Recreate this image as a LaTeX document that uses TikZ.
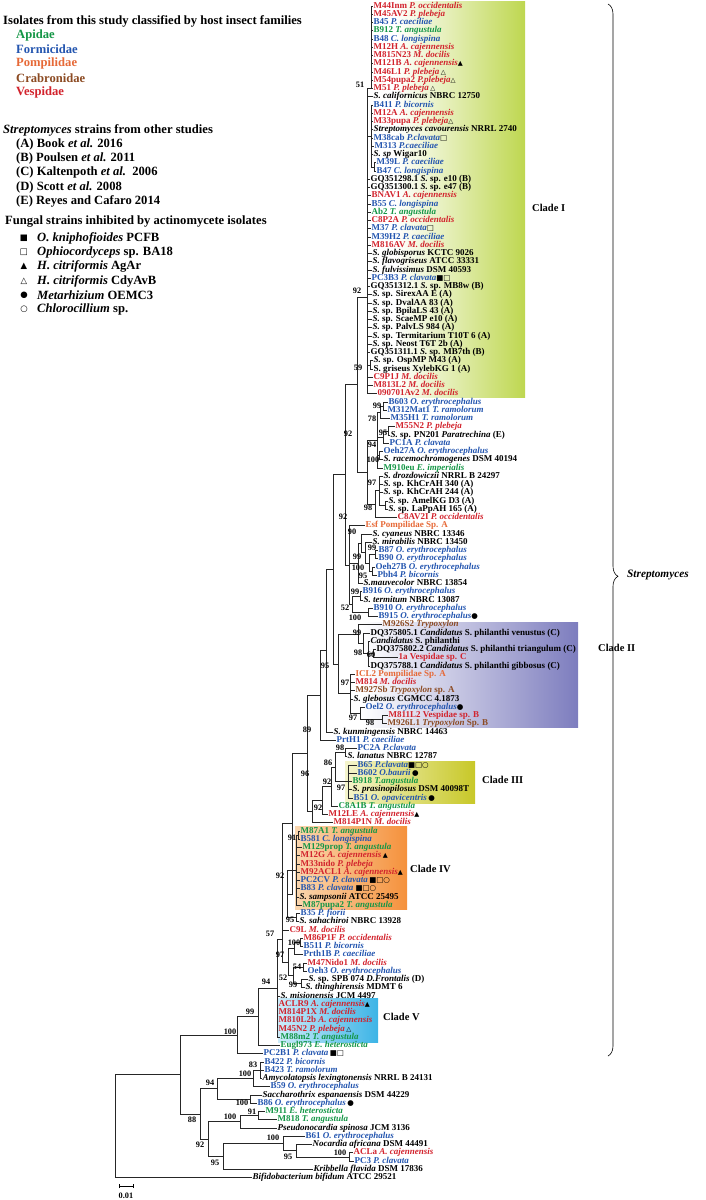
\documentclass[tikz,border=0pt]{standalone}
\usepackage{fontspec}
\setmainfont{Liberation Serif}
\newfontfamily\symf{DejaVu Sans}
\usetikzlibrary{decorations.pathreplacing}
\definecolor{apid}{RGB}{20,150,70}
\definecolor{form}{RGB}{35,85,175}
\definecolor{pomp}{RGB}{230,105,55}
\definecolor{crab}{RGB}{140,75,35}
\definecolor{vesp}{RGB}{210,35,45}
\definecolor{cI}{RGB}{190,215,80}
\definecolor{cII}{RGB}{125,125,190}
\definecolor{cIII}{RGB}{200,200,40}
\definecolor{cIIIl}{RGB}{245,245,205}
\definecolor{cIV}{RGB}{245,145,60}
\definecolor{cIVl}{RGB}{250,215,175}
\definecolor{cV}{RGB}{60,180,230}
\definecolor{cVl}{RGB}{205,236,250}
\newcommand{\mkTf}{{\color{black}\symf\fontsize{6.5}{5}\selectfont ▲}}
\newcommand{\mkTe}{{\color{black}\symf\fontsize{6.5}{5}\selectfont △}}
\newcommand{\mkSf}{{\color{black}\symf\fontsize{7.5}{5}\selectfont ■}}
\newcommand{\mkSe}{{\color{black}\symf\fontsize{7.5}{5}\selectfont □}}
\newcommand{\mkCf}{{\color{black}\symf\fontsize{7.5}{5}\selectfont ●}}
\newcommand{\mkCe}{{\color{black}\symf\fontsize{7.5}{5}\selectfont ○}}
\newcommand{\tp}[5]{\node[tip,text=#4] (#1) at (#3,{6+8.25*#2}) {#5};}
\newcommand{\kids}[2]{\foreach \kk in {#2}{\draw[br] (#1) |- (\kk);}}
\begin{document}
\begin{tikzpicture}[x=1pt,y=-1pt,
 tip/.style={anchor=west,inner sep=0.5pt,text height=6pt,text depth=1.9pt,font=\fontsize{9}{9}\selectfont\bfseries},
 br/.style={draw=black!85,line width=0.7pt},
 bs/.style={inner sep=0pt,font=\fontsize{8.3}{8}\selectfont\bfseries},
 leg/.style={anchor=west,inner sep=0pt,font=\fontsize{12.6}{13}\selectfont\bfseries},
 lsym/.style={inner sep=0pt,font=\fontsize{8.5}{8}\selectfont},
 clade/.style={anchor=west,inner sep=0pt,font=\fontsize{10.5}{11}\selectfont\bfseries}]
\useasboundingbox (0,0) rectangle (706,1200);
% clade boxes
\shade[left color=white,right color=cI] (395,1) rectangle (525,397);
\shade[left color=white,right color=cII] (362,622) rectangle (578,727);
\shade[left color=cIIIl,right color=cIII] (345,761) rectangle (475,803);
\shade[left color=cIVl,right color=cIV] (295,826) rectangle (407,909);
\shade[left color=cVl,right color=cV] (278,998) rectangle (378,1042);
% legend
\node[leg] (lg1) at (3,21) {Isolates from this study classified by host insect families};
\node[leg,text=apid] (lg2) at (16,35) {Apidae};
\node[leg,text=form] (lg3) at (16,49) {Formicidae};
\node[leg,text=pomp] (lg4) at (16,63) {Pompilidae};
\node[leg,text=crab] (lg5) at (16,78) {Crabronidae};
\node[leg,text=vesp] (lg6) at (16,92) {Vespidae};
\node[leg] (lg7) at (3,130) {\textit{Streptomyces} strains from other studies};
\node[leg] (lg8) at (16,144) {(A) Book \textit{et al.} 2016};
\node[leg] (lg9) at (16,158) {(B) Poulsen \textit{et al.} 2011};
\node[leg] (lg10) at (16,172) {(C) Kaltenpoth \textit{et al.}\ \ 2006};
\node[leg] (lg11) at (16,187) {(D) Scott \textit{et al.} 2008};
\node[leg] (lg12) at (16,201) {(E) Reyes and Cafaro 2014};
\node[leg] (lg13) at (5,222) {Fungal strains inhibited by actinomycete isolates};
\node[lsym] (ls1) at (24,238) {\symf ■};
\node[lsym] (ls2) at (24,252) {\symf □};
\node[lsym] (ls3) at (24,266) {\symf ▲};
\node[lsym] (ls4) at (24,281) {\symf △};
\node[lsym] (ls5) at (24,295) {\symf ●};
\node[lsym] (ls6) at (24,309) {\symf ○};
\node[leg] (lt1) at (37,238) {\textit{O. kniphofioides} PCFB};
\node[leg] (lt2) at (37,252) {\textit{Ophiocordyceps} sp. BA18};
\node[leg] (lt3) at (37,266) {\textit{H. citriformis} AgAr};
\node[leg] (lt4) at (37,281) {\textit{H. citriformis} CdyAvB};
\node[leg] (lt5) at (37,295) {\textit{Metarhizium} OEMC3};
\node[leg] (lt6) at (37,309) {\textit{Chlorocillium} sp.};
% tips
\tp{t0}{0}{373}{vesp}{M44Inm \textit{P. occidentalis}}
\tp{t1}{1}{373}{vesp}{M45AV2 \textit{P. plebeja}}
\tp{t2}{2}{373}{form}{B45 \textit{P. caeciliae}}
\tp{t3}{3}{373}{apid}{B912 \textit{T. angustula}}
\tp{t4}{4}{373}{form}{B48 \textit{C. longispina}}
\tp{t5}{5}{373}{vesp}{M12H \textit{A. cajennensis}}
\tp{t6}{6}{373}{vesp}{M815N23 \textit{M. docilis}}
\tp{t7}{7}{373}{vesp}{M121B \textit{A. cajennensis}\mkTf}
\tp{t8}{8}{373}{vesp}{M46L1 \textit{P. plebeja}\,\mkTe}
\tp{t9}{9}{373}{vesp}{M54pupa2 \textit{P.plebeja}\mkTe}
\tp{t10}{10}{373}{vesp}{M51 \textit{P. plebeja}\,\mkTe}
\tp{t11}{11}{373}{black}{\textit{S. californicus} NBRC 12750}
\tp{t12}{12}{373}{form}{B411 \textit{P. bicornis}}
\tp{t13}{13}{373}{vesp}{M12A \textit{A. cajennensis}}
\tp{t14}{14}{373}{vesp}{M33pupa \textit{P. plebeja}\mkTe}
\tp{t15}{15}{373}{black}{\textit{Streptomyces cavourensis} NRRL 2740}
\tp{t16}{16}{373}{form}{M38cab \textit{P.clavata}\mkSe}
\tp{t17}{17}{374}{form}{M313 \textit{P.caeciliae}}
\tp{t18}{18}{373}{black}{\textit{S. sp} Wigar10}
\tp{t19}{19}{376}{form}{M39L \textit{P. caeciliae}}
\tp{t20}{20}{376}{form}{B47 \textit{C. longispina}}
\tp{t21}{21}{370}{black}{GQ351298.1 \textit{S.} sp. e10 (B)}
\tp{t22}{22}{370}{black}{GQ351300.1 \textit{S.} sp. e47 (B)}
\tp{t23}{23}{371}{vesp}{BNAV1 \textit{A. cajennensis}}
\tp{t24}{24}{371}{form}{B55 \textit{C. longispina}}
\tp{t25}{25}{371}{apid}{Ab2 \textit{T. angustula}}
\tp{t26}{26}{371}{vesp}{C8P2A \textit{P. occidentalis}}
\tp{t27}{27}{371}{form}{M37 \textit{P. clavata}\mkSe}
\tp{t28}{28}{371}{form}{M39H2 \textit{P. caeciliae}}
\tp{t29}{29}{371}{vesp}{M816AV \textit{M. docilis}}
\tp{t30}{30}{372}{black}{\textit{S. globisporus} KCTC 9026}
\tp{t31}{31}{372}{black}{\textit{S. flavogriseus} ATCC 33331}
\tp{t32}{32}{372}{black}{\textit{S. fulvissimus} DSM 40593}
\tp{t33}{33}{371}{form}{PC3B3 \textit{P. clavata}\mkSf\mkSe}
\tp{t34}{34}{370}{black}{GQ351312.1 \textit{S.} sp. MB8w (B)}
\tp{t35}{35}{372}{black}{\textit{S.} sp. SirexAA E (A)}
\tp{t36}{36}{372}{black}{\textit{S.} sp. DvalAA 83 (A)}
\tp{t37}{37}{372}{black}{\textit{S.} sp. BpilaLS 43 (A)}
\tp{t38}{38}{372}{black}{\textit{S.} sp. ScaeMP e10 (A)}
\tp{t39}{39}{372}{black}{\textit{S.} sp. PalvLS 984 (A)}
\tp{t40}{40}{372}{black}{\textit{S.} sp. Termitarium T10T 6 (A)}
\tp{t41}{41}{372}{black}{\textit{S.} sp. Neost T6T 2b (A)}
\tp{t42}{42}{370}{black}{GQ351311.1 \textit{S.} sp. MB7th (B)}
\tp{t43}{43}{373}{black}{\textit{S.} sp. OspMP M43 (A)}
\tp{t44}{44}{373}{black}{S. griseus XylebKG 1 (A)}
\tp{t45}{45}{373}{vesp}{C9P1J \textit{M. docilis}}
\tp{t46}{46}{373}{vesp}{M813L2 \textit{M. docilis}}
\tp{t47}{47}{377}{vesp}{090701Av2 \textit{M. docilis}}
\tp{t48}{48}{388}{form}{B603 \textit{O. erythrocephalus}}
\tp{t49}{49}{387}{form}{M312Mat1 \textit{T. ramolorum}}
\tp{t50}{50}{390}{form}{M35H1 \textit{T. ramolorum}}
\tp{t51}{51}{395}{vesp}{M55N2 \textit{P. plebeja}}
\tp{t52}{52}{390}{black}{\textit{S.} sp. PN201 \textit{Paratrechina} (E)}
\tp{t53}{53}{389}{form}{PC1A \textit{P. clavata}}
\tp{t54}{54}{383}{form}{Oeh27A \textit{O. erythrocephalus}}
\tp{t55}{55}{383}{black}{\textit{S. racemochromogenes} DSM 40194}
\tp{t56}{56}{383}{apid}{M910eu \textit{E. imperialis}}
\tp{t57}{57}{383}{black}{\textit{S. drozdowiczii} NRRL B 24297}
\tp{t58}{58}{383}{black}{\textit{S.} sp. KhCrAH 340 (A)}
\tp{t59}{59}{383}{black}{\textit{S.} sp. KhCrAH 244 (A)}
\tp{t60}{60}{388}{black}{\textit{S.} sp. AmelKG D3 (A)}
\tp{t61}{61}{388}{black}{\textit{S.} sp. LaPpAH 165 (A)}
\tp{t62}{62}{397}{vesp}{C8AV2I \textit{P. occidentalis}}
\tp{t63}{63}{365}{pomp}{Esf Pompilidae Sp. A}
\tp{t64}{64}{372}{black}{\textit{S. cyaneus} NBRC 13346}
\tp{t65}{65}{372}{black}{\textit{S. mirabilis} NBRC 13450}
\tp{t66}{66}{378}{form}{B87 \textit{O. erythrocephalus}}
\tp{t67}{67}{378}{form}{B90 \textit{O. erythrocephalus}}
\tp{t68}{68}{375}{form}{Oeh27B \textit{O. erythrocephalus}}
\tp{t69}{69}{377}{form}{Pbh4 \textit{P. bicornis}}
\tp{t70}{70}{363}{black}{\textit{S.mauvecolor} NBRC 13854}
\tp{t71}{71}{362}{form}{B916 \textit{O. erythrocephalus}}
\tp{t72}{72}{363}{black}{\textit{S. termitum} NBRC 13087}
\tp{t73}{73}{373}{form}{B910 \textit{O. erythrocephalus}}
\tp{t74}{74}{378}{form}{B915 \textit{O. erythrocephalus}\mkCf}
\tp{t75}{75}{382}{crab}{M926S2 \textit{Trypoxylon}}
\tp{t76}{76}{370}{black}{DQ375805.1 \textit{Candidatus} S. philanthi venustus (C)}
\tp{t77}{77}{370}{black}{\textit{Candidatus} S. philanthi}
\tp{t78}{78}{376}{black}{DQ375802.2 \textit{Candidatus} S. philanthi triangulum (C)}
\tp{t79}{79}{398}{vesp}{1a Vespidae sp. C}
\tp{t80}{80}{370}{black}{DQ375788.1 \textit{Candidatus} S. philanthi gibbosus (C)}
\tp{t81}{81}{355}{pomp}{ICL2 Pompilidae Sp. A}
\tp{t82}{82}{355}{vesp}{M814 \textit{M. docilis}}
\tp{t83}{83}{355}{crab}{M927Sb \textit{Trypoxylon} sp. A}
\tp{t84}{84}{353}{black}{\textit{S. glebosus} CGMCC 4.1873}
\tp{t85}{85}{365}{form}{Oel2 \textit{O. erythrocephalus}\mkCf}
\tp{t86}{86}{388}{vesp}{M811L2 Vespidae sp. B}
\tp{t87}{87}{387}{crab}{M926L1 \textit{Trypoxylon} Sp. B}
\tp{t88}{88}{333}{black}{\textit{S. kunmingensis} NBRC 14463}
\tp{t89}{89}{336}{form}{PrtH1 \textit{P. caeciliae}}
\tp{t90}{90}{357}{form}{PC2A \textit{P.clavata}}
\tp{t91}{91}{347}{black}{\textit{S. lanatus} NBRC 12787}
\tp{t92}{92}{357}{form}{B65 \textit{P.clavata}\mkSf\mkSe\mkCe}
\tp{t93}{93}{357}{form}{B602 \textit{O.baurii}\,\mkCf}
\tp{t94}{94}{352}{apid}{B918 \textit{T.angustula}}
\tp{t95}{95}{352}{black}{\textit{S. prasinopilosus} DSM 40098T}
\tp{t96}{96}{353}{form}{B51 \textit{O. opavicentris}\,\mkCf}
\tp{t97}{97}{338}{apid}{C8A1B \textit{T. angustula}}
\tp{t98}{98}{328}{vesp}{M12LE \textit{A. cajennensis}\mkTf}
\tp{t99}{99}{333}{vesp}{M814P1N \textit{M. docilis}}
\tp{t100}{100}{300}{apid}{M87A1 \textit{T. angustula}}
\tp{t101}{101}{300}{form}{B581 \textit{C. longispina}}
\tp{t102}{102}{302}{apid}{M129prop \textit{T. angustula}}
\tp{t103}{103}{300}{vesp}{M12G \textit{A. cajennensis}\,\mkTf}
\tp{t104}{104}{300}{vesp}{M33nido \textit{P. plebeja}}
\tp{t105}{105}{300}{vesp}{M92ACL1 \textit{A. cajennensis}\mkTf}
\tp{t106}{106}{300}{form}{PC2CV \textit{P. clavata}\,\mkSf\mkSe\mkCe}
\tp{t107}{107}{300}{form}{B83 \textit{P. clavata} \mkSf\mkSe\mkCe}
\tp{t108}{108}{299}{black}{\textit{S. sampsonii} ATCC 25495}
\tp{t109}{109}{302}{apid}{M87pupa2 \textit{T. angustula}}
\tp{t110}{110}{300}{form}{B35 \textit{P. fiorii}}
\tp{t111}{111}{299}{black}{\textit{S. sahachiroi} NBRC 13928}
\tp{t112}{112}{289}{vesp}{C9L \textit{M. docilis}}
\tp{t113}{113}{303}{vesp}{M86P1F \textit{P. occidentalis}}
\tp{t114}{114}{303}{form}{B511 \textit{P. bicornis}}
\tp{t115}{115}{303}{form}{Prth1B \textit{P. caeciliae}}
\tp{t116}{116}{307}{vesp}{M47Nido1 \textit{M. docilis}}
\tp{t117}{117}{307}{form}{Oeh3 \textit{O. erythrocephalus}}
\tp{t118}{118}{308}{black}{\textit{S.} sp. SPB 074 \textit{D.Frontalis} (D)}
\tp{t119}{119}{305}{black}{\textit{S. thinghirensis} MDMT 6}
\tp{t120}{120}{280}{black}{\textit{S. misionensis} JCM 4497}
\tp{t121}{121}{278}{vesp}{ACLR9 \textit{A. cajennensis}\mkTf}
\tp{t122}{122}{278}{vesp}{M814P1X \textit{M. docilis}}
\tp{t123}{123}{278}{vesp}{M810L2b \textit{A. cajennensis}}
\tp{t124}{124}{278}{vesp}{M45N2 \textit{P. plebeja}\,\mkTe}
\tp{t125}{125}{280}{apid}{M88m2 \textit{T. angustula}}
\tp{t126}{126}{280}{apid}{Eugl973 \textit{E. heterosticta}}
\tp{t127}{127}{263}{form}{PC2B1 \textit{P. clavata}\,\mkSf\mkSe}
\tp{t128}{128}{264}{form}{B422 \textit{P. bicornis}}
\tp{t129}{129}{264}{form}{B423 \textit{T. ramolorum}}
\tp{t130}{130}{262}{black}{\textit{Amycolatopsis lexingtonensis} NRRL B 24131}
\tp{t131}{131}{270}{form}{B59 \textit{O. erythrocephalus}}
\tp{t132}{132}{262}{black}{\textit{Saccharothrix espanaensis} DSM 44229}
\tp{t133}{133}{257}{form}{B86 \textit{O. erythrocephalus}\,\mkCf}
\tp{t134}{134}{265}{apid}{M911 \textit{E. heterosticta}}
\tp{t135}{135}{277}{apid}{M818 \textit{T. angustula}}
\tp{t136}{136}{277}{black}{\textit{Pseudonocardia spinosa} JCM 3136}
\tp{t137}{137}{305}{form}{B61 \textit{O. erythrocephalus}}
\tp{t138}{138}{312}{black}{\textit{Nocardia africana} DSM 44491}
\tp{t139}{139}{353}{vesp}{ACLa \textit{A. cajennensis}}
\tp{t140}{140}{354}{form}{PC3 \textit{P. clavata}}
\tp{t141}{141}{313}{black}{\textit{Kribbella flavida} DSM 17836}
\tp{t142}{142}{252}{black}{\textit{Bifidobacterium bifidum} ATCC 29521}
% internal nodes
\coordinate (C1a) at (371,88.5);
\coordinate (P1) at (374,166.9);
\coordinate (C1b) at (371,136);
\coordinate (P59) at (370,364.9);
\coordinate (CI) at (367,297);
\coordinate (P99) at (383,406.1);
\coordinate (N78) at (380,412.3);
\coordinate (P95) at (388,430.9);
\coordinate (N94) at (383,437.1);
\coordinate (P100) at (379,455.6);
\coordinate (P98b) at (385,505.1);
\coordinate (N97) at (379,490.7);
\coordinate (N98) at (375,504.1);
\coordinate (NX1) at (377,440.2);
\coordinate (CX) at (367,472.1);
\coordinate (B1) at (357,384.5);
\coordinate (P99c) at (375,554.6);
\coordinate (P95b) at (372,571.1);
\coordinate (N100b) at (369,562.9);
\coordinate (N99e) at (365,552.6);
\coordinate (N90) at (361,543.3);
\coordinate (NE2) at (358,563.4);
\coordinate (P99f) at (360,595.9);
\coordinate (P100c) at (368,612.4);
\coordinate (N52) at (352,604.1);
\coordinate (NE1) at (349,564.9);
\coordinate (B2) at (345,474.7);
\coordinate (P60) at (373,653.6);
\coordinate (N98c) at (368,653.6);
\coordinate (N99g) at (363,643.3);
\coordinate (NIIa) at (358,634);
\coordinate (P98c) at (382,719.6);
\coordinate (N97c) at (360,713.4);
\coordinate (N97b) at (350,693.8);
\coordinate (CII) at (338,663.9);
\coordinate (B3) at (333,569.3);
\coordinate (B4) at (326,650.7);
\coordinate (B5) at (320,695.5);
\coordinate (P98d) at (345,752.6);
\coordinate (CIII) at (348,781.5);
\coordinate (N86) at (335,767);
\coordinate (N92c) at (331,786.6);
\coordinate (N92d) at (322,800.6);
\coordinate (N96) at (312,811.7);
\coordinate (B6) at (307,753.6);
\coordinate (P91) at (298,835.1);
\coordinate (CIV) at (296,870.2);
\coordinate (P95c) at (296,917.6);
\coordinate (N92e) at (287,893.9);
\coordinate (B7) at (292,823.8);
\coordinate (P100d) at (300,942.4);
\coordinate (N97d) at (294,948.6);
\coordinate (P54) at (303,967.1);
\coordinate (P99h) at (301,983.6);
\coordinate (N52b) at (293,975.4);
\coordinate (NZ) at (288,962);
\coordinate (W) at (282,939);
\coordinate (U) at (277,988);
\coordinate (T) at (258,1016.75);
\coordinate (S) at (237,1035.25);
\coordinate (P83) at (260,1070.25);
\coordinate (N100e) at (253,1078.5);
\coordinate (P100f) at (250,1099.1);
\coordinate (N94b) at (217,1088.8);
\coordinate (P91b) at (258,1115.6);
\coordinate (N100g) at (240,1121.8);
\coordinate (P100h) at (349,1156.9);
\coordinate (N95d) at (296,1150.7);
\coordinate (N100i) at (283,1143.5);
\coordinate (N95e) at (223,1156.4);
\coordinate (N92f) at (208,1139.1);
\coordinate (NB) at (200,1114);
\coordinate (NA) at (180,1074.6);
\coordinate (ROOT) at (115,1126);
% branches
\kids{C1a}{t0,t1,t2,t3,t4,t5,t6,t7,t8,t9,t10}
\kids{P1}{t19,t20}
\kids{C1b}{t12,t13,t14,t15,t16,t17,t18,P1}
\kids{P59}{t43,t44}
\kids{CI}{C1a,t11,C1b,t21,t22,t23,t24,t25,t26,t27,t28,t29,t30,t31,t32,t33,t34,t35,t36,t37,t38,t39,t40,t41,t42,P59,t45,t46,t47}
\kids{P99}{t48,t49}
\kids{N78}{P99,t50}
\kids{P95}{t51,t52}
\kids{N94}{P95,t53}
\kids{P100}{t54,t55}
\kids{P98b}{t60,t61}
\kids{N97}{t57,t58,t59,P98b}
\kids{N98}{N97,t62}
\kids{NX1}{N78,N94,P100,t56}
\kids{CX}{NX1,N98}
\kids{B1}{CI,CX}
\kids{P99c}{t66,t67}
\kids{P95b}{t68,t69}
\kids{N100b}{P99c,P95b}
\kids{N99e}{t65,N100b}
\kids{N90}{t64,N99e}
\kids{NE2}{N90,t70}
\kids{P99f}{t71,t72}
\kids{P100c}{t73,t74}
\kids{N52}{P99f,P100c}
\kids{NE1}{t63,NE2,N52}
\kids{B2}{B1,NE1}
\kids{P60}{t78,t79}
\kids{N98c}{t77,P60,t80}
\kids{N99g}{t76,N98c}
\kids{NIIa}{t75,N99g}
\kids{P98c}{t86,t87}
\kids{N97c}{t85,P98c}
\kids{N97b}{t81,t82,t83,t84,N97c}
\kids{CII}{NIIa,N97b}
\kids{B3}{B2,CII}
\kids{B4}{B3,t88}
\kids{B5}{B4,t89}
\kids{P98d}{t90,t91}
\kids{CIII}{t92,t93,t94,t95,t96}
\kids{N86}{P98d,CIII}
\kids{N92c}{N86,t97}
\kids{N92d}{N92c,t98}
\kids{N96}{N92d,t99}
\kids{B6}{B5,N96}
\kids{P91}{t100,t101}
\kids{CIV}{P91,t102,t103,t104,t105,t106,t107,t108,t109}
\kids{P95c}{t110,t111}
\kids{N92e}{CIV,P95c}
\kids{B7}{B6,N92e}
\kids{P100d}{t113,t114}
\kids{N97d}{P100d,t115}
\kids{P54}{t116,t117}
\kids{P99h}{t118,t119}
\kids{N52b}{P54,P99h}
\kids{NZ}{N97d,N52b}
\kids{W}{B7,t112,NZ}
\kids{U}{W,t120,t121,t122,t123,t124,t125}
\kids{T}{U,t126}
\kids{S}{T,t127}
\kids{P83}{t128,t129,t130}
\kids{N100e}{P83,t131}
\kids{P100f}{t132,t133}
\kids{N94b}{N100e,P100f}
\kids{P91b}{t134,t135}
\kids{N100g}{P91b,t136}
\kids{P100h}{t139,t140}
\kids{N95d}{t138,P100h}
\kids{N100i}{t137,N95d}
\kids{N95e}{N100i,t141}
\kids{N92f}{N100g,N95e}
\kids{NB}{N94b,N92f}
\kids{NA}{S,NB}
\kids{ROOT}{NA,t142}
% bootstrap values
\node[bs] (b1) at (360,85) {51};
\node[bs] (b2) at (357,291) {92};
\node[bs] (b3) at (358,368) {59};
\node[bs] (b4) at (377,406) {99};
\node[bs] (b5) at (372,419) {78};
\node[bs] (b6) at (383,433) {95};
\node[bs] (b7) at (372,445) {94};
\node[bs] (b8) at (373,460) {100};
\node[bs] (b9) at (372,483) {97};
\node[bs] (b10) at (368,508) {98};
\node[bs] (b11) at (348,434) {92};
\node[bs] (b12) at (343,517) {92};
\node[bs] (b13) at (352,532) {90};
\node[bs] (b14) at (372,548) {99};
\node[bs] (b15) at (357,557) {99};
\node[bs] (b16) at (358,568) {100};
\node[bs] (b17) at (363,576) {95};
\node[bs] (b18) at (355,592) {99};
\node[bs] (b19) at (345,608) {52};
\node[bs] (b20) at (355,618) {100};
\node[bs] (b21) at (357,633) {99};
\node[bs] (b22) at (358,653) {98};
\node[bs] (b23) at (371,655) {60};
\node[bs] (b24) at (325,666) {95};
\node[bs] (b25) at (345,683) {97};
\node[bs] (b26) at (353,718) {97};
\node[bs] (b27) at (370,722.5) {98};
\node[bs] (b28) at (307,730) {89};
\node[bs] (b29) at (340,748) {98};
\node[bs] (b30) at (328,763) {86};
\node[bs] (b31) at (305,774) {96};
\node[bs] (b32) at (327,782) {92};
\node[bs] (b33) at (341,788) {97};
\node[bs] (b34) at (318,808) {92};
\node[bs] (b35) at (292,838) {91};
\node[bs] (b36) at (280,876) {92};
\node[bs] (b37) at (290,920) {95};
\node[bs] (b38) at (270,934) {57};
\node[bs] (b39) at (294,943) {100};
\node[bs] (b40) at (280,955) {97};
\node[bs] (b41) at (297,967) {54};
\node[bs] (b42) at (283,978) {52};
\node[bs] (b43) at (293,985) {99};
\node[bs] (b44) at (266,982) {94};
\node[bs] (b45) at (250,1012) {99};
\node[bs] (b46) at (230,1032) {100};
\node[bs] (b47) at (253,1065) {83};
\node[bs] (b48) at (245,1074) {100};
\node[bs] (b49) at (210,1083) {94};
\node[bs] (b50) at (242,1103) {100};
\node[bs] (b51) at (252,1112) {91};
\node[bs] (b52) at (230,1117) {100};
\node[bs] (b53) at (192,1120) {88};
\node[bs] (b54) at (200,1145) {92};
\node[bs] (b55) at (273,1138) {100};
\node[bs] (b56) at (340,1153) {100};
\node[bs] (b57) at (288,1157) {95};
\node[bs] (b58) at (215,1163) {95};
% clade labels
\node[clade] (lI) at (532,208) {Clade I};
\node[clade] (lII) at (598,648) {Clade II};
\node[clade] (lIII) at (482,780) {Clade III};
\node[clade] (lIV) at (410,869) {Clade IV};
\node[clade] (lV) at (383,1017) {Clade V};
% brace
\coordinate (bra) at (608,4);
\coordinate (brb) at (608,1056);
\draw[decorate,decoration={brace,amplitude=10pt,aspect=0.544},line width=0.6pt] (bra) -- (brb);
\node[anchor=west,inner sep=0pt,font=\fontsize{11.3}{12}\selectfont\bfseries\itshape] (strep) at (627,575) {Streptomyces};
% scale bar
\coordinate (sb1) at (119,1186);
\coordinate (sb2) at (133,1186);
\draw[line width=0.8pt] (sb1) -- (sb2);
\draw[line width=0.8pt] ([yshift=-2pt]sb1) -- ([yshift=2pt]sb1);
\draw[line width=0.8pt] ([yshift=-2pt]sb2) -- ([yshift=2pt]sb2);
\node[bs] (sbl) at (126,1196) {0.01};
\end{tikzpicture}
\end{document}
